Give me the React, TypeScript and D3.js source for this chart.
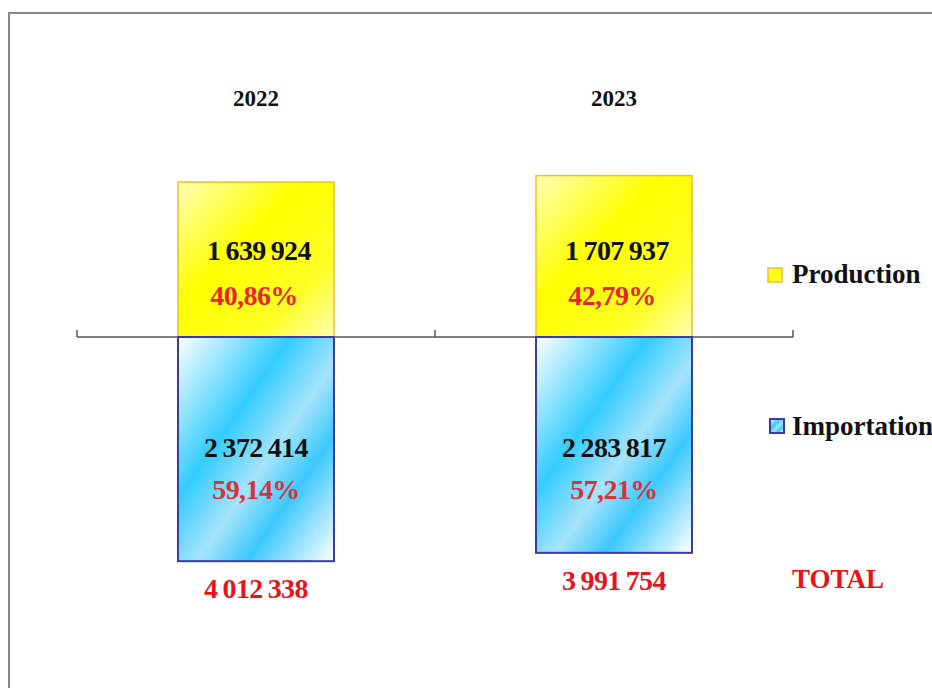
import React from "react";
import * as d3 from "d3";

const years = ["2022", "2023"];
const production = [1639924, 1707937];
const importation = [2372414, 2283817];
const productionPct = ["40,86%", "42,79%"];
const importationPct = ["59,14%", "57,21%"];
const totals = [4012338, 3991754];
const legendLabels = ["Production", "Importation"];
const totalLabel = "TOTAL";

const W = 932;
const H = 688;
const AXIS_Y = 337;
const FONT = "'Liberation Serif', 'Times New Roman', serif";

const fmt = (v: number) =>
  String(v).replace(/\B(?=(\d{3})+(?!\d))/g, "\u2009");

export default function App() {
  const x = d3
    .scaleBand<string>()
    .domain(years)
    .range([77, 793])
    .paddingInner(0.5643)
    .paddingOuter(0.2821);
  const y = d3
    .scaleLinear()
    .domain([-2500000, 2500000])
    .range([AXIS_Y + 236.25, AXIS_Y - 236.25]);
  const bw = x.bandwidth();
  const ticks = [77, 435, 793];
  const big = { fontFamily: FONT, fontWeight: "bold" as const, fontSize: 28, letterSpacing: -0.6 };

  return (
    <div style={{ position: "absolute", left: 0, top: 0 }}>
      <svg width={W} height={H} style={{ display: "block", background: "#fff" }}>
        <defs>
          <linearGradient id="gY" x1="0" y1="0" x2="1" y2="1">
            <stop offset="0" stopColor="#ffffb8" />
            <stop offset="0.4" stopColor="#ffff00" />
            <stop offset="0.75" stopColor="#ffff28" />
            <stop offset="1" stopColor="#ffffb0" />
          </linearGradient>
          <linearGradient id="gB" x1="0" y1="0" x2="1" y2="1">
            <stop offset="0" stopColor="#ffffff" />
            <stop offset="0.36" stopColor="#33ccff" />
            <stop offset="0.56" stopColor="#a6e4fb" />
            <stop offset="0.72" stopColor="#3cc8fc" />
            <stop offset="1" stopColor="#ffffff" />
          </linearGradient>
        </defs>
        <rect x={9} y={13} width={W + 20} height={H + 20} fill="none" stroke="#8a8a8a" strokeWidth={2} />

        {years.map((yr, i) => {
          const cx = (x(yr) as number) + bw / 2;
          const x0 = x(yr) as number;
          const yTop = y(production[i]);
          const yBot = y(-importation[i]);
          return (
            <g key={yr}>
              <text x={cx} y={106} textAnchor="middle" fontFamily={FONT} fontWeight="bold" fontSize={23} fill="#111">
                {yr}
              </text>
              <rect x={x0} y={yTop} width={bw} height={AXIS_Y - yTop} fill="url(#gY)" stroke="#f0c020" strokeWidth={1.5} />
              <rect x={x0} y={AXIS_Y} width={bw} height={yBot - AXIS_Y} fill="url(#gB)" stroke="#3a3aa8" strokeWidth={2} />
              <text x={cx + 3} y={AXIS_Y - 77} textAnchor="middle" {...big} fill="#111">
                {fmt(production[i])}
              </text>
              <text x={cx - 2} y={AXIS_Y - 32} textAnchor="middle" {...big} fill="#e8262a">
                {productionPct[i]}
              </text>
              <text x={cx} y={AXIS_Y + 120} textAnchor="middle" {...big} fill="#111">
                {fmt(importation[i])}
              </text>
              <text x={cx} y={AXIS_Y + 162} textAnchor="middle" {...big} fill="#dc3038">
                {importationPct[i]}
              </text>
              <text x={cx} y={yBot + 37} textAnchor="middle" {...big} fill="#e8141c">
                {fmt(totals[i])}
              </text>
            </g>
          );
        })}

        <line x1={77} x2={793} y1={AXIS_Y} y2={AXIS_Y} stroke="#555" strokeWidth={1.5} />
        {ticks.map((t) => (
          <line key={t} x1={t} x2={t} y1={AXIS_Y} y2={AXIS_Y - 7} stroke="#555" strokeWidth={1.5} />
        ))}
        {years.map((yr) => {
          const x0 = x(yr) as number;
          return (
            <line key={"o" + yr} x1={x0} x2={x0 + bw} y1={AXIS_Y} y2={AXIS_Y} stroke="#3a3aa8" strokeWidth={2} />
          );
        })}

        <rect x={768} y={268} width={14} height={14} fill="url(#gY)" stroke="#f0c020" strokeWidth={1.5} />
        <text x={792} y={283} {...big} letterSpacing={0} fontSize={27} fill="#111">
          {legendLabels[0]}
        </text>
        <rect x={770} y={419} width={14} height={14} fill="url(#gB)" stroke="#3a3aa8" strokeWidth={2} />
        <text x={792} y={435} {...big} letterSpacing={0} fontSize={27} fill="#111">
          {legendLabels[1]}
        </text>
        <text x={792} y={588} {...big} letterSpacing={0} fontSize={27} fill="#e8141c">
          {totalLabel}
        </text>
      </svg>
    </div>
  );
}
